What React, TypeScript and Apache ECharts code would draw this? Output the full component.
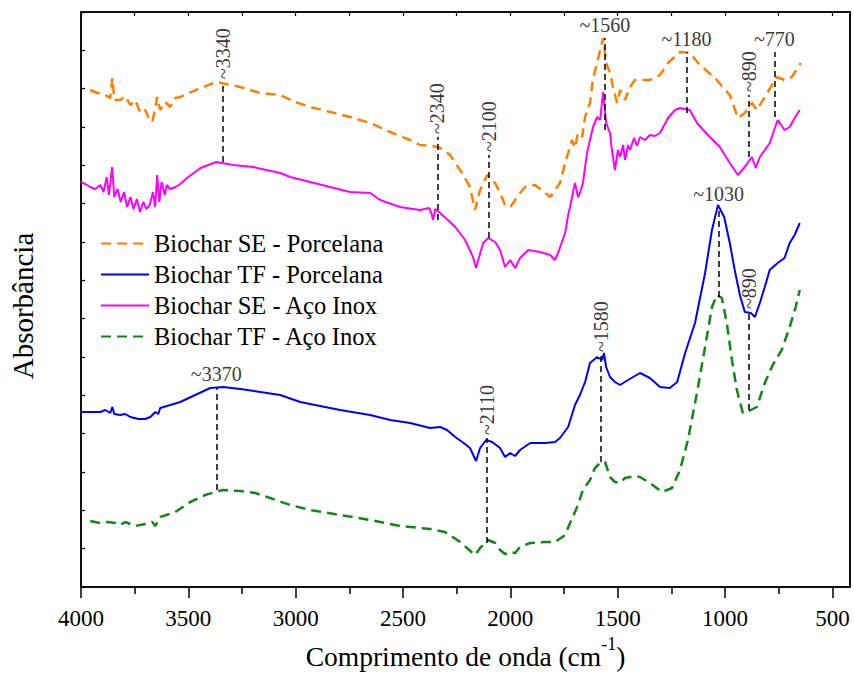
import React, { useEffect, useRef } from "react";
import * as echarts from "echarts";

type Pt = [number, number];

// FTIR spectra, offset vertically (arbitrary absorbance units), x in cm^-1
const sePorcelana: Pt[] = [
  [3957, 497], [3924, 494], [3887, 492], [3864, 489], [3854, 509], [3845, 487], [3817, 487],
  [3794, 491], [3770, 482], [3747, 487], [3724, 474], [3701, 477], [3687, 470], [3668, 465],
  [3654, 479], [3645, 490], [3631, 477], [3608, 485], [3584, 480], [3561, 489], [3538, 490],
  [3444, 499], [3370, 505], [3258, 500], [3165, 494], [3072, 492], [3002, 485], [2932, 480],
  [2839, 475], [2746, 470], [2653, 464], [2560, 455], [2467, 447], [2421, 442], [2360, 441],
  [2327, 439], [2281, 432], [2234, 417], [2188, 400], [2165, 377], [2141, 397], [2108, 412],
  [2071, 404], [2048, 394], [2025, 382], [2001, 380], [1978, 387], [1955, 394], [1931, 400],
  [1885, 402], [1838, 394], [1815, 390], [1792, 397], [1769, 404], [1745, 424], [1731, 434],
  [1713, 447], [1699, 439], [1685, 454], [1666, 450], [1652, 470], [1629, 484], [1615, 509],
  [1601, 520], [1582, 537], [1568, 549], [1554, 524], [1536, 514], [1522, 500], [1503, 484],
  [1489, 497], [1466, 487], [1443, 500], [1420, 507], [1396, 507], [1350, 507], [1303, 512],
  [1266, 524], [1210, 535], [1164, 534], [1117, 522], [1047, 509], [978, 492], [940, 469],
  [908, 474], [875, 484], [852, 477], [815, 490], [759, 510], [723, 507], [689, 510], [647, 524],
];

const tfPorcelana: Pt[] = [
  [4000, 175], [3957, 175], [3910, 175], [3887, 177], [3864, 174], [3854, 180], [3845, 173],
  [3817, 172], [3794, 173], [3770, 170], [3733, 168], [3701, 168], [3677, 170], [3654, 175],
  [3640, 173], [3631, 179], [3584, 182], [3538, 185], [3468, 192], [3398, 199], [3337, 200],
  [3258, 198], [3165, 195], [3072, 192], [2979, 185], [2886, 181], [2793, 177], [2653, 172],
  [2560, 167], [2467, 164], [2374, 159], [2327, 160], [2295, 157], [2257, 150], [2211, 143],
  [2188, 139], [2160, 126], [2141, 139], [2113, 147], [2085, 145], [2048, 139], [2025, 130],
  [2001, 134], [1978, 131], [1955, 137], [1908, 144], [1838, 144], [1792, 145], [1769, 149],
  [1731, 160], [1699, 182], [1676, 192], [1652, 205], [1629, 224], [1596, 230], [1573, 227],
  [1564, 234], [1554, 220], [1536, 210], [1513, 205], [1489, 202], [1452, 207], [1396, 214],
  [1350, 209], [1303, 200], [1257, 199], [1223, 205], [1186, 234], [1140, 264], [1093, 314],
  [1061, 357], [1033, 382], [1004, 370], [978, 344], [955, 317], [931, 292], [908, 275],
  [880, 274], [861, 270], [838, 284], [815, 300], [792, 317], [755, 324], [723, 329],
  [699, 344], [676, 352], [652, 364],
];

const seInox: Pt[] = [
  [4000, 405], [3980, 403], [3957, 400], [3935, 398], [3910, 402], [3895, 395], [3880, 410],
  [3870, 392], [3855, 420], [3845, 390], [3830, 398], [3815, 385], [3800, 395], [3785, 380],
  [3770, 390], [3755, 378], [3740, 388], [3725, 375], [3710, 385], [3695, 378], [3680, 382],
  [3665, 395], [3655, 380], [3645, 412], [3635, 385], [3625, 405], [3610, 392], [3600, 402],
  [3585, 398], [3560, 400], [3538, 403], [3500, 410], [3444, 419], [3370, 425], [3291, 422],
  [3198, 420], [3072, 414], [3025, 410], [2932, 405], [2839, 400], [2746, 395], [2653, 394],
  [2607, 387], [2514, 380], [2421, 377], [2378, 379], [2368, 374], [2360, 367], [2350, 378],
  [2327, 374], [2281, 365], [2257, 360], [2211, 347], [2174, 330], [2160, 319], [2127, 344],
  [2103, 349], [2071, 345], [2048, 337], [2025, 320], [2001, 327], [1978, 319], [1955, 329],
  [1917, 337], [1862, 335], [1815, 332], [1792, 327], [1778, 334], [1745, 354], [1731, 372],
  [1722, 380], [1708, 395], [1699, 404], [1685, 390], [1676, 394], [1662, 404], [1643, 434],
  [1629, 447], [1615, 460], [1596, 470], [1582, 467], [1568, 495], [1554, 464], [1536, 454],
  [1527, 437], [1513, 417], [1499, 437], [1489, 430], [1475, 442], [1466, 427], [1452, 442],
  [1443, 437], [1424, 449], [1410, 441], [1396, 450], [1373, 447], [1350, 452], [1327, 451],
  [1303, 454], [1266, 469], [1233, 477], [1210, 479], [1164, 477], [1131, 464], [1071, 450],
  [1024, 440], [978, 424], [940, 412], [908, 420], [875, 430], [857, 419], [838, 430],
  [792, 444], [755, 467], [723, 457], [699, 460], [676, 469], [652, 477],
];

const tfInox: Pt[] = [
  [3957, 66], [3910, 64], [3873, 65], [3840, 64], [3817, 62], [3794, 65], [3747, 61],
  [3701, 63], [3668, 65], [3654, 61], [3631, 70], [3561, 75], [3491, 85], [3421, 92],
  [3342, 97], [3258, 96], [3189, 94], [3119, 89], [3025, 82], [2932, 77], [2793, 72],
  [2653, 67], [2514, 61], [2374, 58], [2305, 55], [2234, 45], [2165, 32], [2141, 39],
  [2103, 47], [2071, 44], [2048, 37], [2025, 33], [2001, 35], [1978, 34], [1955, 40],
  [1908, 44], [1838, 45], [1792, 45], [1745, 52], [1722, 64], [1689, 80], [1662, 97],
  [1629, 107], [1606, 119], [1582, 124], [1559, 125], [1536, 110], [1513, 105], [1489, 104],
  [1466, 109], [1420, 111], [1396, 110], [1350, 104], [1294, 95], [1247, 99], [1210, 117],
  [1173, 147], [1131, 194], [1093, 240], [1061, 280], [1038, 292], [1015, 289], [992, 264],
  [968, 227], [945, 197], [917, 174], [880, 177], [852, 180], [815, 204], [778, 222],
  [736, 237], [699, 260], [671, 280], [652, 297],
];

const seriesNames = [
  "Biochar SE - Porcelana",
  "Biochar TF - Porcelana",
  "Biochar SE - Aço Inox",
  "Biochar TF - Aço Inox",
];

// Wavenumber axis ticks
const majorTicks = [4000, 3500, 3000, 2500, 2000, 1500, 1000, 500];
const minorTicks = [3750, 3250, 2750, 2250, 1750, 1250, 750];
const allTicks = [4000, 3750, 3500, 3250, 3000, 2750, 2500, 2250, 2000, 1750, 1500, 1250, 1000, 750, 500];

// Assigned bands: wavenumber, vertical extent of the guide line
const bandPos = [3340, 2340, 2100, 1560, 1180, 890, 770, 1030, 890, 1580, 3370, 2110];
const bandLow = [425, 367, 349, 457, 474, 430, 470, 290, 177, 125, 97, 44];
const bandHigh = [505, 450, 432, 549, 535, 492, 535, 380, 275, 232, 200, 149];
const bandVertical = [true, true, true, false, false, true, false, false, true, true, false, true];

const FONT = "Liberation Serif";

export default function App() {
  const ref = useRef<HTMLDivElement>(null);

  useEffect(() => {
    if (!ref.current) return;
    const chart = echarts.init(ref.current, undefined, { renderer: "svg" });

    const xBase = { type: "value" as const, min: 418, max: 4000, inverse: true, splitLine: { show: false } };
    const labelGap = 3;

    const option: any = {
      animation: false,
      backgroundColor: "#fff",
      textStyle: { fontFamily: FONT },
      grid: {
        left: 80, right: 4, top: 12, bottom: 103,
        show: true, borderColor: "#000", borderWidth: 1.5, backgroundColor: "transparent",
      },
      legend: {
        data: seriesNames,
        orient: "vertical",
        left: 100,
        top: 231,
        padding: 0,
        itemWidth: 48,
        itemHeight: 14,
        itemGap: 6,
        itemStyle: { opacity: 0 },
        textStyle: { fontFamily: FONT, fontSize: 24.5, color: "#000" },
      },
      xAxis: [
        {
          ...xBase,
          position: "bottom",
          axisLine: { show: true, lineStyle: { color: "#000", width: 1.5 } },
          axisTick: { show: true, inside: false, length: 11, customValues: majorTicks, lineStyle: { color: "#000", width: 1.5 } },
          axisLabel: {
            show: true, customValues: majorTicks, margin: 20, fontFamily: FONT, fontSize: 23, color: "#000",
            formatter: (v: number) => String(v),
          },
          name: "{a|Comprimento de onda (cm}{s|-1}{a|)}",
          nameLocation: "middle",
          nameGap: 48,
          nameTextStyle: {
            fontFamily: FONT,
            color: "#000",
            rich: {
              a: { fontFamily: FONT, fontSize: 27.5, lineHeight: 42, color: "#000" },
              s: { fontFamily: FONT, fontSize: 18, lineHeight: 18, verticalAlign: "top", color: "#000" },
            },
          },
        },
        {
          ...xBase,
          position: "bottom",
          axisLine: { show: false },
          axisTick: { show: true, inside: false, length: 7, customValues: minorTicks, lineStyle: { color: "#000", width: 1.5 } },
          axisLabel: { show: false },
        },
        {
          ...xBase,
          position: "top",
          axisLine: { show: true, lineStyle: { color: "#000", width: 1.5 } },
          axisTick: { show: true, inside: true, length: 4, customValues: allTicks, lineStyle: { color: "#000", width: 1.2 } },
          axisLabel: { show: false },
        },
      ],
      yAxis: [
        {
          type: "value",
          min: 0,
          max: 575,
          interval: 575 / 15,
          position: "left",
          splitLine: { show: false },
          axisLine: { show: true, lineStyle: { color: "#000", width: 1.5 } },
          axisTick: { show: true, inside: true, length: 4, lineStyle: { color: "#000", width: 1.2 } },
          axisLabel: { show: false },
          name: "Absorbância",
          nameLocation: "middle",
          nameGap: 44,
          nameRotate: 90,
          nameTextStyle: { fontFamily: FONT, fontSize: 29, color: "#000", padding: [0, 13, 0, 0] },
        },
        {
          type: "value",
          min: 0,
          max: 575,
          position: "right",
          splitLine: { show: false },
          axisLine: { show: true, lineStyle: { color: "#000", width: 1.5 } },
          axisTick: { show: false },
          axisLabel: { show: false },
        },
      ],
      series: [
        {
          name: seriesNames[0], type: "line", data: sePorcelana, symbol: "none", showSymbol: false,
          lineStyle: { color: "#ff8000", width: 2.5, type: [10, 6] }, itemStyle: { color: "#ff8000" }, z: 3,
        },
        {
          name: seriesNames[1], type: "line", data: tfPorcelana, symbol: "none", showSymbol: false,
          lineStyle: { color: "#0000ff", width: 2 }, itemStyle: { color: "#0000ff" }, z: 3,
        },
        {
          name: seriesNames[2], type: "line", data: seInox, symbol: "none", showSymbol: false,
          lineStyle: { color: "#ff00ff", width: 2 }, itemStyle: { color: "#ff00ff" }, z: 3,
        },
        {
          name: seriesNames[3], type: "line", data: tfInox, symbol: "none", showSymbol: false,
          lineStyle: { color: "#118811", width: 2.5, type: [10, 6] }, itemStyle: { color: "#118811" }, z: 3,
        },
        {
          name: "bands",
          type: "lines",
          coordinateSystem: "cartesian2d",
          silent: true,
          z: 4,
          lineStyle: { color: "#000", width: 1.5, type: [6, 4], opacity: 1 },
          data: bandPos.map((v, i) => ({ coords: [[v, bandLow[i]], [v, bandHigh[i]]] })),
        },
        {
          name: "bandLabels",
          type: "scatter",
          silent: true,
          symbolSize: 1,
          itemStyle: { color: "rgba(0,0,0,0)" },
          z: 5,
          data: bandPos.map((v, i) => ({
            value: [v, bandHigh[i] + labelGap],
            label: bandVertical[i]
              ? {
                  show: true, position: "inside", rotate: 90, align: "left", verticalAlign: "middle",
                  formatter: "~" + v, fontFamily: FONT, fontSize: 20, color: "#000",
                }
              : {
                  show: true, position: "inside", align: "center", verticalAlign: "bottom",
                  formatter: "~" + v, fontFamily: FONT, fontSize: 20, color: "#000",
                },
          })),
        },
      ],
    };

    chart.setOption(option);
    return () => chart.dispose();
  }, []);

  return (
    <div
      ref={ref}
      style={{ position: "fixed", left: 0, top: 0, width: 854, height: 690, background: "#fff" }}
    />
  );
}
